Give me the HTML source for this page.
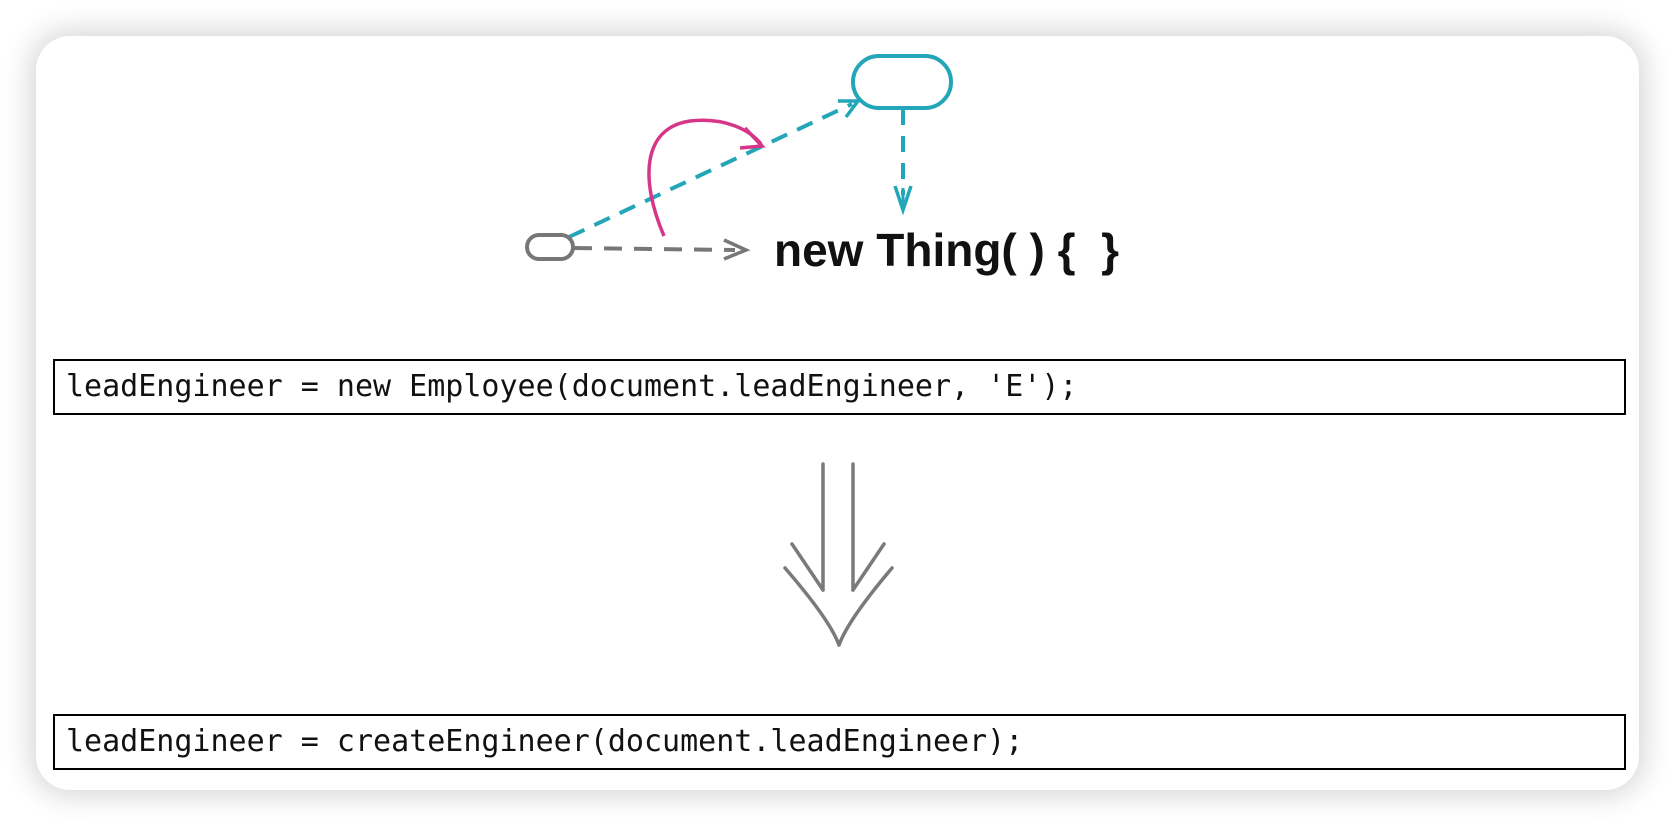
<!DOCTYPE html>
<html><head><style>
html,body{margin:0;padding:0;background:#fff;width:1674px;height:826px;overflow:hidden;}
.card{position:absolute;left:36px;top:36px;width:1603px;height:754px;background:#fff;border-radius:34px;box-shadow:0 0 28px 6px rgba(0,0,0,0.16);}
.box{position:absolute;left:53px;width:1573px;height:56px;border:2.5px solid #000;box-sizing:border-box;font-family:"DejaVu Sans Mono","Liberation Mono",monospace;font-size:30px;line-height:51px;padding-left:11px;color:#111;white-space:pre;}
svg{position:absolute;left:0;top:0;}
</style></head><body>
<div class="card"></div>
<svg width="1674" height="826" viewBox="0 0 1674 826">
<!-- teal rounded node -->
<rect x="853" y="56" width="98" height="52" rx="26" fill="none" stroke="#22a6b8" stroke-width="4"/>
<!-- teal vertical dashed -->
<line x1="903" y1="109" x2="903" y2="195" stroke="#22a6b8" stroke-width="4" stroke-dasharray="16,11"/>
<path d="M895,186 L903,210 L911,186" fill="none" stroke="#22a6b8" stroke-width="3.5"/>
<line x1="903" y1="188" x2="903" y2="206" stroke="#22a6b8" stroke-width="3"/>
<!-- teal diagonal dashed -->
<line x1="569" y1="237" x2="852" y2="104" stroke="#22a6b8" stroke-width="4" stroke-dasharray="17,11"/>
<path d="M838,101 L858,101 L846,117" fill="none" stroke="#22a6b8" stroke-width="3.5"/>
<!-- gray oval -->
<rect x="527" y="235" width="46" height="24" rx="12" fill="none" stroke="#777" stroke-width="4"/>
<!-- gray dashed -->
<line x1="574" y1="248" x2="735" y2="250" stroke="#777" stroke-width="4" stroke-dasharray="18,12"/>
<path d="M724,240 L746,250 L724,259" fill="none" stroke="#777" stroke-width="3.5"/>
<!-- pink arc -->
<path d="M664,236 C640,180 642,128 690,121 C725,117 750,130 761,144" fill="none" stroke="#d6358a" stroke-width="3.5"/>
<path d="M745,128 L762,146 L740,148" fill="none" stroke="#d6358a" stroke-width="3.5"/>
<text x="774" y="266" font-family="Liberation Sans, sans-serif" font-weight="bold" font-size="46" fill="#111" style="white-space:pre" xml:space="preserve">new Thing( ) {  }</text>
<!-- double arrow -->
<g stroke="#7a7a7a" stroke-width="3.5" fill="none" stroke-linecap="round">
<line x1="823" y1="464" x2="823" y2="590"/>
<line x1="853" y1="464" x2="853" y2="590"/>
<path d="M792,544 L823,590"/>
<path d="M884,544 L853,590"/>
<path d="M785,568 Q830,620 839,645"/>
<path d="M892,568 Q848,620 839,645"/>
</g>
</svg>
<div class="box" style="top:359px;">leadEngineer = new Employee(document.leadEngineer, 'E');</div>
<div class="box" style="top:714px;">leadEngineer = createEngineer(document.leadEngineer);</div>
</body></html>
